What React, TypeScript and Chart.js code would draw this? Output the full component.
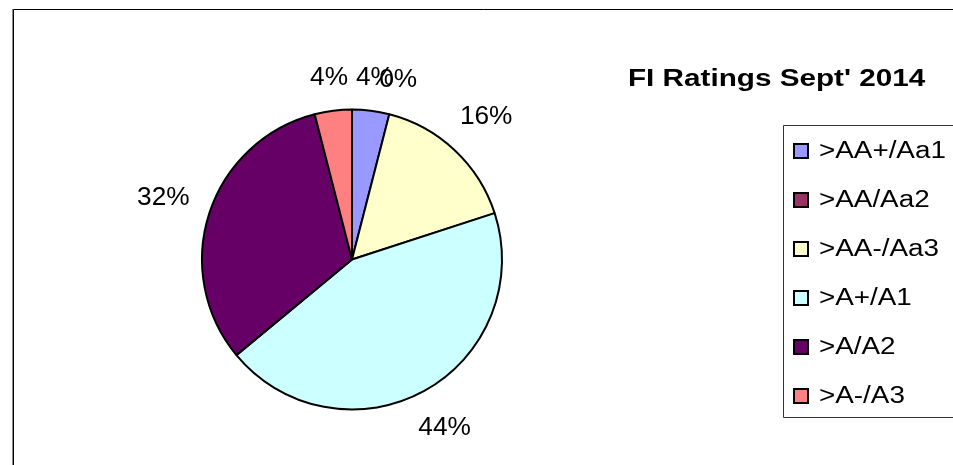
import React, { useEffect, useRef } from "react";
import { Chart, registerables } from "chart.js";

Chart.register(...registerables);

const categories = [">AA+/Aa1", ">AA/Aa2", ">AA-/Aa3", ">A+/A1", ">A/A2", ">A-/A3"];
const shares = [4, 0, 16, 44, 32, 4];
const sliceColors = ["#9999FF", "#993366", "#FFFFCC", "#CCFFFF", "#660066", "#FF8080"];
const titleText = "FI Ratings Sept' 2014";

const FONT = '"Liberation Sans", Arial, Helvetica, sans-serif';

function stretchedText(
  ctx: CanvasRenderingContext2D,
  text: string,
  x: number,
  y: number,
  font: string,
  sx: number,
  align: CanvasTextAlign,
  baseline: CanvasTextBaseline
) {
  ctx.save();
  ctx.translate(x, y);
  ctx.scale(sx, 1);
  ctx.font = font;
  ctx.textAlign = align;
  ctx.textBaseline = baseline;
  ctx.fillStyle = "#000";
  ctx.fillText(text, 0, 0);
  ctx.restore();
}

const decorPlugin = {
  id: "decor",
  beforeDraw(chart: any) {
    const ctx: CanvasRenderingContext2D = chart.ctx;
    ctx.save();
    ctx.fillStyle = "#fff";
    ctx.fillRect(0, 0, chart.width, chart.height);
    // outer frame
    ctx.strokeStyle = "#888";
    ctx.lineWidth = 1;
    ctx.beginPath();
    ctx.moveTo(12.5, 9);
    ctx.lineTo(12.5, chart.height);
    ctx.stroke();
    ctx.strokeStyle = "#000";
    ctx.beginPath();
    ctx.moveTo(13.5, chart.height);
    ctx.lineTo(13.5, 9.5);
    ctx.lineTo(chart.width, 9.5);
    ctx.stroke();
    ctx.restore();
  },
  afterDraw(chart: any) {
    const ctx: CanvasRenderingContext2D = chart.ctx;
    const meta = chart.getDatasetMeta(0);
    const data: number[] = chart.data.datasets[0].data;
    const total = data.reduce((a: number, b: number) => a + b, 0);

    // slice labels
    const labelFont = `25px ${FONT}`;
    const labelSx = 1.05;
    meta.data.forEach((arc: any, i: number) => {
      const { x, y, startAngle, endAngle, outerRadius } = arc.getProps(
        ["x", "y", "startAngle", "endAngle", "outerRadius"],
        true
      );
      const mid = (startAngle + endAngle) / 2;
      const txt = Math.round((data[i] / total) * 100) + "%";
      ctx.save();
      ctx.font = labelFont;
      const w = ctx.measureText(txt).width * labelSx;
      ctx.restore();
      const hw = w / 2;
      const hh = 11;
      const c = Math.cos(mid);
      const s = Math.sin(mid);
      const support = hw * Math.abs(c) + hh * Math.abs(s);
      const d = outerRadius + 20 + support;
      stretchedText(ctx, txt, x + c * d, y + s * d, labelFont, labelSx, "center", "middle");
    });

    // title
    stretchedText(ctx, titleText, 628, 85.5, `bold 23px ${FONT}`, 1.29, "left", "alphabetic");

    // legend box
    ctx.save();
    ctx.strokeStyle = "#333";
    ctx.lineWidth = 1;
    ctx.beginPath();
    ctx.moveTo(chart.width, 125.5);
    ctx.lineTo(783.5, 125.5);
    ctx.lineTo(783.5, 417.5);
    ctx.lineTo(chart.width, 417.5);
    ctx.stroke();
    ctx.restore();

    const colors: string[] = chart.data.datasets[0].backgroundColor;
    chart.data.labels.forEach((lab: string, i: number) => {
      const cy = 151 + i * 49;
      ctx.save();
      ctx.fillStyle = colors[i];
      ctx.fillRect(793, cy - 8, 16, 16);
      ctx.strokeStyle = "#000";
      ctx.lineWidth = 2;
      ctx.strokeRect(794, cy - 7, 14, 14);
      ctx.restore();
      stretchedText(ctx, lab, 819, cy + 1, `23px ${FONT}`, 1.21, "left", "middle");
    });
  },
};

export default function App() {
  const ref = useRef<HTMLCanvasElement | null>(null);
  useEffect(() => {
    if (!ref.current) return;
    const chart = new Chart(ref.current, {
      type: "pie",
      data: {
        labels: categories,
        datasets: [
          {
            data: shares,
            backgroundColor: sliceColors,
            borderColor: "#000",
            borderWidth: 2,
            radius: 150,
          } as any,
        ],
      },
      options: {
        responsive: false,
        animation: false,
        layout: { padding: { left: 100, right: 349, top: 80, bottom: 26 } },
        plugins: {
          legend: { display: false },
          title: { display: false },
          tooltip: { enabled: false },
        },
      },
      plugins: [decorPlugin],
    });
    return () => chart.destroy();
  }, []);
  return (
    <canvas
      ref={ref}
      width={953}
      height={465}
      style={{ position: "fixed", left: 0, top: 0, width: 953, height: 465 }}
    />
  );
}
